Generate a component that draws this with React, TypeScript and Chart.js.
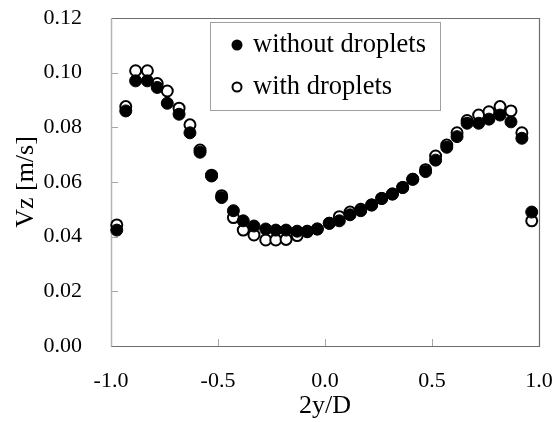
import React, { useEffect, useRef } from "react";
import { Chart, registerables } from "chart.js";

Chart.register(...registerables);

// ---- data ----
const xPositions = [
  -0.973, -0.931, -0.885, -0.83, -0.784, -0.737, -0.682, -0.631, -0.584, -0.53,
  -0.483, -0.428, -0.382, -0.332, -0.277, -0.23, -0.182, -0.13, -0.083, -0.036,
  0.02, 0.067, 0.117, 0.167, 0.218, 0.265, 0.315, 0.363, 0.41, 0.47,
  0.517, 0.569, 0.617, 0.664, 0.718, 0.766, 0.818, 0.869, 0.92, 0.966,
];
const withoutDroplets = [
  0.0424, 0.086, 0.097, 0.097, 0.0946, 0.0888, 0.0848, 0.078, 0.0709, 0.0622,
  0.0543, 0.0495, 0.0458, 0.0439, 0.0428, 0.0424, 0.0424, 0.042, 0.042, 0.0428,
  0.0449, 0.0458, 0.048, 0.0495, 0.0516, 0.054, 0.0556, 0.058, 0.061, 0.0638,
  0.068, 0.0727, 0.0766, 0.0815, 0.0815, 0.083, 0.0845, 0.082, 0.076, 0.049,
];
const withDroplets = [
  0.0443, 0.0876, 0.1007, 0.1007, 0.096, 0.0933, 0.087, 0.0809, 0.0717, 0.0625,
  0.055, 0.047, 0.0424, 0.0406, 0.0388, 0.0388, 0.039, 0.0404, 0.0418, 0.0428,
  0.0449, 0.0473, 0.049, 0.05, 0.0516, 0.054, 0.0556, 0.058, 0.061, 0.0645,
  0.0695, 0.0735, 0.078, 0.0825, 0.0845, 0.0857, 0.0876, 0.086, 0.078, 0.0458,
];
const seriesLabels = ["without droplets", "with droplets"];
const xTickValues = [-1.0, -0.5, 0.0, 0.5, 1.0];
const yTickValues = [0, 0.02, 0.04, 0.06, 0.08, 0.1, 0.12];
const xTitle = "2y/D";
const yTitle = "Vz [m/s]";

const FONT = "'Liberation Serif', 'Times New Roman', serif";

export default function App() {
  const ref = useRef<HTMLCanvasElement>(null);

  useEffect(() => {
    if (!ref.current) return;

    const framePlugin = {
      id: "frame",
      beforeDatasetsDraw(chart: any) {
        const { ctx, chartArea: a, scales } = chart;
        const x = scales.x;
        const y = scales.y;
        ctx.save();
        // inward tick marks
        ctx.strokeStyle = "#a6a6a6";
        ctx.lineWidth = 1;
        y.ticks.forEach((t: any) => {
          const py = Math.round(y.getPixelForValue(t.value)) + 0.5;
          ctx.beginPath();
          ctx.moveTo(a.left, py);
          ctx.lineTo(a.left + 7, py);
          ctx.stroke();
        });
        x.ticks.forEach((t: any) => {
          const px = Math.round(x.getPixelForValue(t.value)) + 0.5;
          ctx.beginPath();
          ctx.moveTo(px, a.bottom);
          ctx.lineTo(px, a.bottom - 7);
          ctx.stroke();
        });
        // plot frame
        ctx.strokeStyle = "#6e6e6e";
        ctx.lineWidth = 1.2;
        ctx.beginPath();
        ctx.moveTo(a.left, a.top + 0.5);
        ctx.lineTo(a.right + 0.5, a.top + 0.5);
        ctx.lineTo(a.right + 0.5, a.bottom + 0.5);
        ctx.lineTo(a.left, a.bottom + 0.5);
        ctx.stroke();
        ctx.strokeStyle = "#b4b4b4";
        ctx.lineWidth = 1.5;
        ctx.beginPath();
        ctx.moveTo(a.left + 0.5, a.top);
        ctx.lineTo(a.left + 0.5, a.bottom + 0.5);
        ctx.stroke();
        ctx.restore();
      },
      afterDraw(chart: any) {
        const { ctx } = chart;
        ctx.save();
        // legend box
        ctx.fillStyle = "#ffffff";
        ctx.fillRect(210.5, 22.5, 230, 88);
        ctx.strokeStyle = "#a0a0a0";
        ctx.lineWidth = 1;
        ctx.strokeRect(210.5, 22.5, 230, 88);
        const rows = [45, 87];
        chart.data.datasets.forEach((ds: any, i: number) => {
          const cy = rows[i];
          ctx.beginPath();
          if (i === 0) {
            ctx.arc(237, cy, 5.5, 0, Math.PI * 2);
            ctx.fillStyle = "#000";
            ctx.fill();
          } else {
            ctx.arc(237, cy, 4.5, 0, Math.PI * 2);
            ctx.fillStyle = "#fff";
            ctx.fill();
            ctx.lineWidth = 2;
            ctx.strokeStyle = "#000";
            ctx.stroke();
          }
          ctx.fillStyle = "#000";
          ctx.font = `26.5px ${FONT}`;
          ctx.textAlign = "left";
          ctx.textBaseline = "middle";
          ctx.fillText(ds.label, 253, cy);
        });
        ctx.restore();
      },
    };

    const chart = new Chart(ref.current, {
      type: "scatter",
      data: {
        datasets: [
          {
            label: seriesLabels[0],
            data: xPositions.map((x, i) => ({ x, y: withoutDroplets[i] })),
            pointRadius: 6,
            pointBackgroundColor: "#000",
            pointBorderColor: "#000",
            pointBorderWidth: 1,
            clip: false,
          },
          {
            label: seriesLabels[1],
            data: xPositions.map((x, i) => ({ x, y: withDroplets[i] })),
            pointRadius: 5.5,
            pointBackgroundColor: "#fff",
            pointBorderColor: "#000",
            pointBorderWidth: 2,
            clip: false,
          },
        ],
      },
      options: {
        responsive: false,
        animation: false,
        devicePixelRatio: 1,
        layout: { padding: { top: 18, right: 17, left: 0, bottom: 0 } },
        plugins: {
          legend: { display: false },
          tooltip: { enabled: false },
        },
        scales: {
          x: {
            type: "linear",
            min: -1,
            max: 1,
            afterBuildTicks: (s: any) => {
              s.ticks = xTickValues.map((v) => ({ value: v }));
            },
            afterFit: (s: any) => {
              s.height = 76;
              s.paddingLeft = 0;
              s.paddingRight = 0;
            },
            ticks: {
              color: "#000",
              font: { family: FONT, size: 22 },
              padding: 22,
              maxRotation: 0,
              autoSkip: false,
              callback: (v: any) => Number(v).toFixed(1),
            },
            grid: { display: false, drawTicks: false },
            border: { display: false },
            title: {
              display: true,
              text: xTitle,
              color: "#000",
              font: { family: FONT, size: 26 },
              padding: { top: 0, bottom: 0 },
            },
          },
          y: {
            type: "linear",
            min: 0,
            max: 0.12,
            afterBuildTicks: (s: any) => {
              s.ticks = yTickValues.map((v) => ({ value: v }));
            },
            afterFit: (s: any) => {
              s.width = 111;
              s.paddingTop = 0;
              s.paddingBottom = 0;
            },
            ticks: {
              color: "#000",
              font: { family: FONT, size: 22 },
              padding: 29,
              autoSkip: false,
              callback: (v: any) => Number(v).toFixed(2),
            },
            grid: { display: false, drawTicks: false },
            border: { display: false },
            title: {
              display: true,
              text: yTitle,
              color: "#000",
              font: { family: FONT, size: 26 },
              padding: { top: 11, bottom: 0 },
            },
          },
        },
      },
      plugins: [framePlugin],
    } as any);

    return () => chart.destroy();
  }, []);

  return (
    <div
      style={{
        position: "fixed",
        left: 0,
        top: 0,
        width: 556,
        height: 422,
        background: "#fff",
      }}
    >
      <canvas ref={ref} width={556} height={422} style={{ display: "block" }} />
    </div>
  );
}
